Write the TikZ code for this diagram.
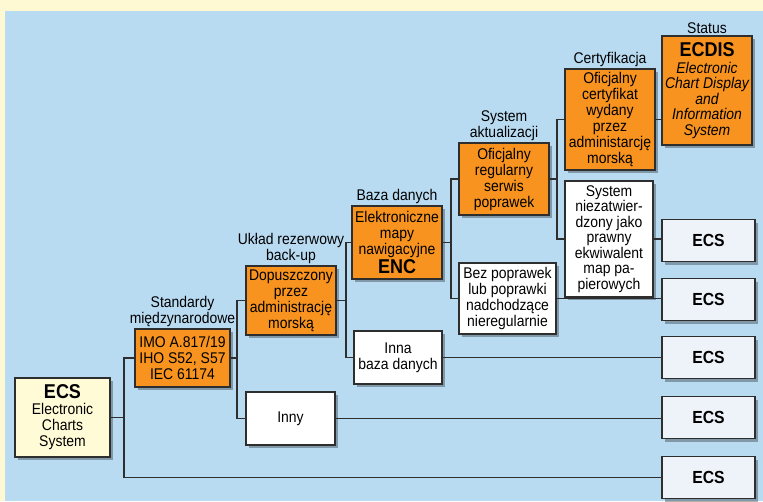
\documentclass[tikz,border=0pt]{standalone}
\usepackage{fontspec}
\setmainfont{Liberation Sans}[FakeStretch=0.9]
\usetikzlibrary{positioning,shadows}
\definecolor{bgblue}{HTML}{B9DBF2}
\definecolor{bgyellow}{HTML}{FFF9D3}
\definecolor{boxorange}{HTML}{F7931E}
\definecolor{ecsfill}{HTML}{EEF3FA}
\definecolor{ecspale}{HTML}{FFFBD6}
\definecolor{linegrey}{HTML}{2E2E2E}
\begin{document}
\begin{tikzpicture}
      [x=1pt, y=-1pt,
        line/.style={draw=linegrey, line width=1.8pt},
        box/.style={
          rectangle,
          draw=linegrey, line width=1.8pt,
          align=center,
          inner sep=0pt,
          font=\fontsize{15.5}{16}\selectfont,
          drop shadow={shadow xshift=3pt, shadow yshift=-3pt, fill=black, opacity=0.3},
        },
        orangebox/.style={box, fill=boxorange},
        whitebox/.style={box, fill=white},
        ecsbox/.style={box, fill=ecsfill, minimum width=93pt, minimum height=42pt,
          font=\fontsize{17.5}{18}\selectfont\bfseries},
        lbl/.style={align=center, inner sep=1pt, font=\fontsize{15.5}{16}\selectfont},
      ]
      \useasboundingbox[fill=bgyellow] (0,0) rectangle (763,501);
      \fill[bgblue] (5,11) rectangle (763,501);

      \node[box, fill=ecspale, minimum width=95pt, minimum height=79pt] (ecs0) at (62.5,417.5)
        {{\fontsize{20}{20}\selectfont\bfseries ECS}\\Electronic\\Charts\\System};
      \node[orangebox, minimum width=95pt, minimum height=58pt,
        label={[lbl]above:Standardy\\międzynarodowe}] (imo) at (182.5,358)
        {IMO A.817/19\\IHO S52, S57\\IEC 61174};
      \node[orangebox, minimum width=90pt, minimum height=69pt,
        label={[lbl]above:Układ rezerwowy\\back-up}] (dop) at (291,300.5)
        {Dopuszczony\\przez\\administrację\\morską};
      \node[whitebox, minimum width=89pt, minimum height=53pt] (inny) at (290.5,418.5) {Inny};
      \node[orangebox, minimum width=90pt, minimum height=73pt,
        label={[lbl]above:Baza danych}] (enc) at (397,242.5)
        {Elektroniczne\\mapy\\nawigacyjne\\{\fontsize{20}{20}\selectfont\bfseries ENC}};
      \node[whitebox, minimum width=88pt, minimum height=53pt] (inna) at (398,357.5)
        {Inna\\baza danych};
      \node[orangebox, minimum width=90pt, minimum height=72pt,
        label={[lbl]above:System\\aktualizacji}] (serwis) at (504,179)
        {Oficjalny\\regularny\\serwis\\poprawek};
      \node[whitebox, minimum width=97pt, minimum height=71pt] (bez) at (507.5,298.5)
        {Bez poprawek\\lub poprawki\\nadchodzące\\nieregularnie};
      \node[orangebox, minimum width=90pt, minimum height=101pt,
        label={[lbl]above:Certyfikacja}] (cert) at (610,119.5)
        {Oficjalny\\certyfikat\\wydany\\przez\\administarcję\\morską};
      \node[whitebox, minimum width=88pt, minimum height=116pt,
        font=\fontsize{15.5}{15.5}\selectfont] (niez) at (609,239)
        {System\\niezatwier-\\dzony jako\\prawny\\ekwiwalent\\map pa-\\pierowych};
      \node[orangebox, minimum width=90pt, minimum height=109pt,
        font=\fontsize{15.5}{15.5}\selectfont,
        label={[lbl]above:Status}] (ecdis) at (707,90.5)
        {{\fontsize{20}{20}\selectfont\bfseries ECDIS}\\[1pt]\itshape Electronic\\\itshape Chart Display\\\itshape and\\\itshape Information\\\itshape System};

      \node[ecsbox] (ecs1) at (708.5,240.5) {ECS};
      \node[ecsbox] (ecs2) at (708.5,299.5) {ECS};
      \node[ecsbox] (ecs3) at (708.5,357.5) {ECS};
      \node[ecsbox] (ecs4) at (708.5,417.5) {ECS};
      \node[ecsbox] (ecs5) at (708.5,477.5) {ECS};

      \coordinate (b1) at (124,0);
      \coordinate (b2) at (237,0);
      \coordinate (b3) at (346,0);
      \coordinate (b4) at (451,0);
      \coordinate (b5) at (557,0);

      \draw[line] (ecs0.east) -- (ecs0.east -| b1);
      \draw[line] (imo.west) -| (b1 |- ecs5.west) -- (ecs5.west);
      \draw[line] (imo.east) -- (imo.east -| b2);
      \draw[line] (dop.west) -| (b2 |- inny.west) -- (inny.west);
      \draw[line] (inny.east) -- (inny.east -| ecs4.west);
      \draw[line] (dop.east) -- (dop.east -| b3);
      \draw[line] (enc.west) -| (b3 |- inna.west) -- (inna.west);
      \draw[line] (inna.east) -- (inna.east -| ecs3.west);
      \draw[line] (enc.east) -- (enc.east -| b4);
      \draw[line] (serwis.west) -| (b4 |- bez.west) -- (bez.west);
      \draw[line] (bez.east) -- (bez.east -| ecs2.west);
      \draw[line] (serwis.east) -- (serwis.east -| b5);
      \draw[line] (cert.west) -| (b5 |- niez.west) -- (niez.west);
      \draw[line] (niez.east) -- (niez.east -| ecs1.west);
      \draw[line] (cert.east) -- (cert.east -| ecdis.west);
    \end{tikzpicture}
\end{document}
